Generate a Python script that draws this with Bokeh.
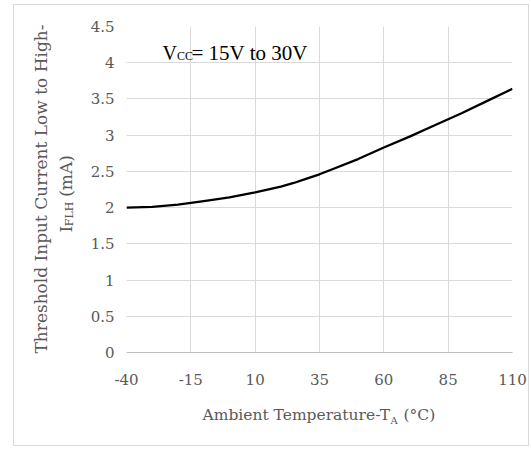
import math
from bokeh.plotting import figure
from bokeh.models import FixedTicker, Label
from bokeh.embed import file_html
from bokeh.resources import INLINE

# ---- data ----
temps = [-40, -30, -20, -10, 0, 10, 20, 25, 30, 35, 40, 50, 60, 70, 80, 85, 90, 100, 110]
current_ma = [2.00, 2.01, 2.04, 2.09, 2.14, 2.21, 2.29, 2.34, 2.40, 2.46, 2.53, 2.67,
              2.83, 2.98, 3.14, 3.22, 3.30, 3.47, 3.64]
x_ticks = [-40, -15, 10, 35, 60, 85, 110]
x_tick_labels = ["-40", "-15", "10", "35", "60", "85", "110"]
y_ticks = [0, 0.5, 1, 1.5, 2, 2.5, 3, 3.5, 4, 4.5]
y_tick_labels = ["0", "0.5", "1", "1.5", "2", "2.5", "3", "3.5", "4", "4.5"]

GRAY = "#595959"
TFONT = "DejaVu Serif"

p = figure(width=516, height=442, x_range=(-40, 110), y_range=(0, 4.5),
           output_backend="svg", toolbar_location=None,
           min_border_left=108, min_border_right=18, min_border_top=21, min_border_bottom=95,
           margin=(4, 0, 0, 13),
           styles={"border": "1px solid #d9d9d9", "box-sizing": "border-box"})
p.outline_line_color = None
p.background_fill_color = "white"
p.border_fill_color = "white"

p.line(temps, current_ma, line_color="black", line_width=2.3)

# axes
p.xaxis.ticker = FixedTicker(ticks=x_ticks)
p.yaxis.ticker = FixedTicker(ticks=y_ticks)
p.xaxis.major_label_overrides = {t: s for t, s in zip(x_ticks, x_tick_labels)}
p.yaxis.major_label_overrides = {t: s for t, s in zip(y_ticks, y_tick_labels)}
for ax in (p.xaxis[0], p.yaxis[0]):
    ax.major_tick_line_color = None
    ax.minor_tick_line_color = None
    ax.major_tick_out = 0
    ax.major_tick_in = 0
    ax.minor_tick_out = 0
    ax.major_label_text_font = TFONT
    ax.major_label_text_font_size = "15px"
    ax.major_label_text_color = GRAY
p.yaxis.axis_line_color = None
p.xaxis.axis_line_color = "#bfbfbf"
p.xaxis.major_label_standoff = 21
p.yaxis.major_label_standoff = 12

p.xgrid.grid_line_color = "#d9d9d9"
p.ygrid.grid_line_color = "#d9d9d9"


def lab(x, y, text, size, font=TFONT, color=GRAY, angle=0, align="left",
        baseline="middle", place="center"):
    lbl = Label(x=x, y=y, x_units="canvas", y_units="canvas", text=text,
                text_font=font, text_font_size=size, text_color=color,
                angle=angle, text_align=align, text_baseline=baseline)
    p.add_layout(lbl, place)


# annotation V_CC
SERIF = "Liberation Serif"
lab(147, 46, "V", "20px", font=SERIF, color="black")
lab(161.5, 49, "CC", "12px", font=SERIF, color="black")
lab(176, 46, "= 15V to 30V", "21px", font=SERIF, color="black")

# y-axis title (two lines)
lab(25.5, 182.5, "Threshold Input Current Low to High-", "17px", angle=math.pi / 2,
    align="center", place="left")
lab(50, 226, "I", "17px", angle=math.pi / 2, place="left")
lab(54, 219.7, "FLH", "11px", angle=math.pi / 2, place="left")
lab(50, 190.3, "(mA)", "17px", angle=math.pi / 2, place="left")

# x-axis title
lab(187, 408, "Ambient Temperature-T", "15.5px", place="below")
lab(375, 414, "A", "10px", place="below")
lab(388, 408, "(°C)", "15.5px", place="below")

open("out.html", "w").write(file_html(p, INLINE))
